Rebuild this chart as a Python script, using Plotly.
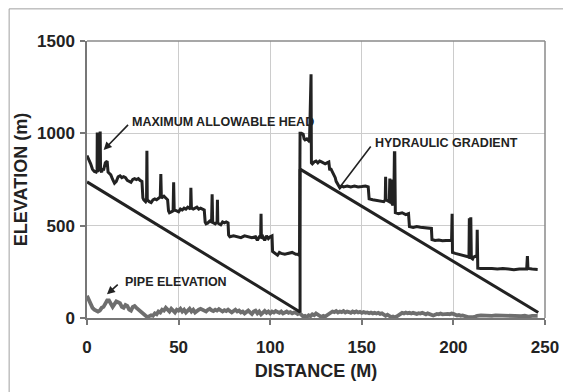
import plotly.graph_objects as go

# ---------------- data ----------------
x_ticks = [0, 50, 100, 150, 200, 250]
y_ticks = [0, 500, 1000, 1500]

# Maximum allowable head (x, elevation)
mah_points = [
    (0, 880), (1, 860), (2, 835), (3, 805), (4, 793), (5, 790), (5.5, 800), (5.6, 1005), (5.8, 790),
    (6.3, 1000), (6.5, 800), (7.2, 1010), (7.4, 800), (8, 790), (8.5, 810), (9, 800), (10, 840),
    (11, 850), (11.5, 790), (12, 785), (13, 775), (14, 750), (15, 730), (16, 740), (17, 765),
    (18, 770), (19, 760), (20, 765), (21, 760), (22, 745), (23, 740), (24, 735), (25, 750),
    (26, 755), (27, 750), (28, 755), (29, 745), (30, 740), (30.5, 650), (31, 640), (32, 630),
    (32.5, 640), (32.7, 905), (32.9, 640), (34, 630), (35, 625), (36, 640), (37, 645), (38, 640),
    (39, 650), (40, 655), (40.3, 780), (40.6, 650), (42, 660), (43, 650), (44, 640), (44.5, 580),
    (45, 570), (46, 575), (47, 580), (47.3, 735), (47.6, 585), (49, 580), (50, 575), (51, 590),
    (52, 585), (53, 595), (54, 590), (55, 600), (56, 595), (56.5, 590), (56.7, 705), (57, 595),
    (58, 590), (59, 595), (60, 600), (61, 590), (62, 595), (63, 590), (64, 585), (64.5, 520),
    (65, 510), (66, 515), (67, 525), (68, 520), (68.3, 670), (68.6, 520), (69, 515), (70, 510),
    (71, 520), (71.2, 640), (71.4, 515), (72, 510), (73, 505), (74, 520), (75, 515), (76, 520),
    (77, 515), (77.3, 450), (78, 440), (80, 445), (82, 440), (84, 435), (86, 445), (88, 440),
    (90, 435), (92, 440), (93, 420), (94, 440), (94.8, 445), (95, 565), (95.2, 430), (96, 440),
    (97, 420), (98, 445), (99, 430), (100, 440), (101, 445), (101.3, 360), (102, 355), (103, 345),
    (104, 340), (105, 355), (106, 350), (108, 345), (110, 350), (112, 355), (114, 345), (115, 345),
    (116, 340), (116.3, 1000), (117, 1000), (118, 995), (118.5, 970), (119, 965), (120, 970),
    (121, 960), (121.5, 975), (122, 1320), (122.3, 1320), (122.5, 840), (123, 835), (124, 845),
    (125, 850), (126, 840), (127, 850), (128, 845), (129, 840), (130, 835), (131, 840), (132, 845),
    (132.5, 800), (133, 810), (134, 790), (135, 770), (135.5, 760), (136, 740), (137, 720),
    (138, 705), (139, 715), (140, 710), (142, 715), (144, 710), (146, 715), (148, 710), (150, 712),
    (152, 715), (153.5, 710), (154, 645), (156, 640), (158, 638), (160, 635), (162, 630),
    (162.8, 640), (163, 765), (163.2, 640), (164, 635), (165, 630), (165.3, 755), (165.6, 620),
    (166.2, 750), (166.5, 620), (167, 610), (167.5, 640), (167.8, 895), (168, 895), (168.3, 570),
    (170, 565), (172, 570), (174, 560), (175.5, 565), (176, 495), (178, 490), (180, 495),
    (182, 492), (184, 490), (186, 488), (188, 485), (188.3, 425), (190, 420), (192, 422),
    (194, 418), (196, 420), (198, 420), (199, 420), (199.3, 565), (199.5, 355), (201, 350),
    (203, 345), (205, 340), (207, 335), (208.5, 330), (208.7, 540), (209, 320), (209.5, 545),
    (209.8, 325), (210.5, 320), (211, 330), (212, 335), (212.8, 330), (213, 478), (213.3, 270),
    (215, 268), (218, 270), (221, 268), (224, 266), (227, 268), (230, 265), (233, 262), (236, 265),
    (239, 268), (240, 265), (240.4, 335), (240.7, 268), (243, 265), (246, 263),
]

# Hydraulic gradient
hg_x = [0, 116.3, 116.3, 246.3]
hg_y = [737, 33, 806, 30]

# Pipe elevation
pipe_points = [
    (0, 120), (1, 100), (2, 70), (3, 55), (4, 45), (5, 40), (6, 35), (7, 40), (8, 55), (9, 60),
    (10, 80), (11, 95), (12, 95), (13, 80), (14, 60), (15, 75), (16, 90), (17, 85), (18, 80),
    (19, 60), (20, 55), (21, 70), (22, 65), (23, 45), (24, 40), (25, 60), (26, 65), (27, 55),
    (28, 45), (29, 35), (30, 30), (31, 20), (32, 12), (33, 5), (34, 8), (35, 15), (36, 12),
    (37, 25), (38, 20), (39, 35), (40, 30), (41, 45), (42, 40), (43, 55), (44, 45), (45, 35),
    (46, 50), (47, 40), (48, 30), (49, 45), (50, 40), (51, 50), (52, 35), (53, 45), (54, 30),
    (55, 40), (56, 50), (57, 35), (58, 45), (59, 30), (60, 40), (61, 45), (62, 50), (63, 45),
    (64, 40), (65, 35), (66, 45), (67, 50), (68, 42), (69, 38), (70, 45), (71, 40), (72, 48),
    (73, 40), (74, 35), (75, 42), (76, 38), (77, 45), (78, 40), (79, 30), (80, 38), (81, 45),
    (82, 35), (83, 40), (84, 30), (85, 35), (86, 25), (87, 35), (88, 40), (89, 30), (90, 22),
    (91, 35), (92, 40), (93, 25), (94, 35), (95, 20), (96, 30), (97, 38), (98, 28), (99, 35),
    (100, 25), (101, 35), (102, 30), (103, 38), (104, 32), (105, 28), (106, 35), (107, 25),
    (108, 30), (109, 35), (110, 28), (111, 32), (112, 25), (113, 30), (114, 28), (115, 22),
    (116, 28), (117, 15), (118, 8), (119, 12), (120, 5), (121, 15), (122, 10), (123, 20),
    (124, 15), (125, 25), (126, 18), (127, 10), (128, 5), (129, 12), (130, 8), (131, 15),
    (132, 20), (133, 30), (134, 35), (135, 32), (136, 38), (137, 30), (138, 35), (139, 32),
    (140, 38), (141, 30), (142, 35), (143, 32), (144, 28), (145, 35), (146, 30), (147, 36),
    (148, 30), (149, 33), (150, 28), (151, 32), (152, 28), (153, 30), (154, 26), (155, 30),
    (156, 25), (157, 28), (158, 24), (159, 28), (160, 22), (161, 25), (162, 20), (163, 12),
    (164, 18), (165, 10), (166, 5), (167, 8), (168, 3), (169, 8), (170, 15), (171, 22), (172, 28),
    (173, 25), (174, 30), (175, 26), (176, 28), (177, 24), (178, 28), (179, 25), (180, 22),
    (181, 26), (182, 24), (183, 28), (184, 22), (185, 20), (186, 25), (187, 22), (188, 18),
    (189, 14), (190, 18), (191, 22), (192, 20), (193, 24), (194, 20), (195, 22), (196, 24),
    (197, 22), (198, 20), (199, 24), (200, 22), (201, 18), (202, 14), (203, 16), (204, 12),
    (205, 14), (206, 10), (207, 8), (208, 5), (209, 4), (210, 3), (211, 5), (212, 8), (213, 12),
    (215, 14), (217, 12), (219, 14), (221, 12), (223, 14), (225, 13), (227, 12), (229, 14),
    (231, 12), (233, 10), (235, 12), (237, 10), (239, 12), (241, 8), (243, 12), (245, 14), (246, 12),
]

mah_x = [p[0] for p in mah_points]
mah_y = [p[1] for p in mah_points]
pipe_x = [p[0] for p in pipe_points]
pipe_y = [p[1] for p in pipe_points]

FONT = "Liberation Sans, Arial, sans-serif"
DARK = "#222222"

fig = go.Figure()
fig.add_trace(go.Scatter(x=pipe_x, y=pipe_y, mode="lines",
                         line=dict(color="#6e6e6e", width=3.8), name="Pipe elevation"))
fig.add_trace(go.Scatter(x=hg_x, y=hg_y, mode="lines",
                         line=dict(color=DARK, width=3), name="Hydraulic gradient"))
fig.add_trace(go.Scatter(x=mah_x, y=mah_y, mode="lines",
                         line=dict(color=DARK, width=3), name="Maximum allowable head"))

ann_font = dict(family=FONT, size=12.5, color=DARK, weight="bold")
annotations = [
    # arrows
    dict(x=9.1, y=910, ax=23.2, ay=1054, xref="x", yref="y", axref="x", ayref="y",
         text="", showarrow=True, arrowhead=2, arrowsize=1, arrowwidth=1.6, arrowcolor=DARK),
    dict(x=138.2, y=711, ax=155.5, ay=937, xref="x", yref="y", axref="x", ayref="y",
         text="", showarrow=True, arrowhead=0, arrowwidth=1.6, arrowcolor=DARK),
    dict(x=10.9, y=128, ax=17.6, ay=188, xref="x", yref="y", axref="x", ayref="y",
         text="", showarrow=True, arrowhead=2, arrowsize=1, arrowwidth=1.6, arrowcolor=DARK),
    # labels
    dict(x=23.2, y=1063, xref="x", yref="y", text="MAXIMUM ALLOWABLE HEAD", showarrow=False,
         xanchor="left", yanchor="middle", font=ann_font),
    dict(x=156.2, y=949, xref="x", yref="y", text="HYDRAULIC GRADIENT", showarrow=False,
         xanchor="left", yanchor="middle", font=ann_font),
    dict(x=19.5, y=193, xref="x", yref="y", text="PIPE ELEVATION", showarrow=False,
         xanchor="left", yanchor="middle", font=ann_font),
]

shapes = [
    # outer frame of the picture
    dict(type="rect", xref="paper", yref="paper", x0=-0.17, y0=-0.3, x1=1.08, y1=1.116,
         line=dict(color="#a0a0a0", width=1), layer="below"),
    # plot area frame (top and right)
    dict(type="line", xref="paper", yref="paper", x0=0, y0=1, x1=1, y1=1,
         line=dict(color="#8a8a8a", width=1.5)),
    dict(type="line", xref="paper", yref="paper", x0=1, y0=0, x1=1, y1=1,
         line=dict(color="#8a8a8a", width=1.5)),
]

# the page body adds an 8px offset, so the figure is sized to fit the window
fig.update_layout(
    width=563, height=384,
    margin=dict(l=79, r=26, t=33, b=74, autoexpand=False),
    paper_bgcolor="white", plot_bgcolor="white",
    showlegend=False,
    annotations=annotations, shapes=shapes,
    font=dict(family=FONT, color=DARK),
)
fig.update_xaxes(
    range=[0, 250], tickvals=x_ticks, ticktext=[str(v) for v in x_ticks],
    automargin=False,
    showgrid=True, gridcolor="#cccccc", gridwidth=1, zeroline=False,
    showline=True, linecolor="#777777", linewidth=1.5,
    ticks="outside", ticklen=5, tickcolor="#777777", tickwidth=1.5,
    ticklabelstandoff=8,
    tickfont=dict(family=FONT, size=17, color=DARK, weight="bold"),
    title=dict(text="DISTANCE (M)", font=dict(family=FONT, size=18, color=DARK, weight="bold"),
               standoff=8),
)
fig.update_yaxes(
    range=[0, 1500], tickvals=y_ticks, ticktext=[str(v) for v in y_ticks],
    automargin=False,
    showgrid=True, gridcolor="#cccccc", gridwidth=1, zeroline=False,
    showline=True, linecolor="#777777", linewidth=1.5,
    ticks="outside", ticklen=5, tickcolor="#777777", tickwidth=1.5,
    ticklabelstandoff=2,
    tickfont=dict(family=FONT, size=17, color=DARK, weight="bold"),
    title=dict(text="ELEVATION (m)", font=dict(family=FONT, size=18, color=DARK, weight="bold"),
               standoff=5),
)

fig.write_html("out.html")
